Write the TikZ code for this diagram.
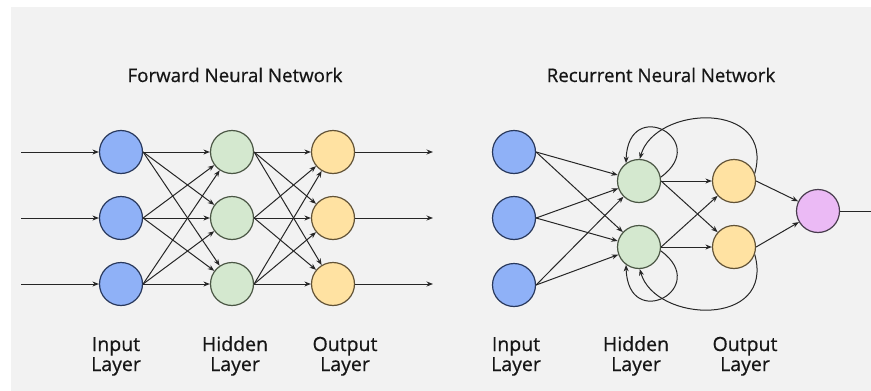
\documentclass[tikz,border=0pt]{standalone}
\usepackage{fontspec}
\setmainfont{Open Sans}[UprightFeatures={FakeBold=0.6}]
\usetikzlibrary{arrows.meta}

\definecolor{panel}{HTML}{F2F2F2}
\definecolor{inFill}{HTML}{8FB1F7}
\definecolor{inLine}{HTML}{28385C}
\definecolor{hidFill}{HTML}{D4E8CF}
\definecolor{hidLine}{HTML}{4A5644}
\definecolor{outFill}{HTML}{FFE2A2}
\definecolor{outLine}{HTML}{615236}
\definecolor{resFill}{HTML}{EBBAF5}
\definecolor{resLine}{HTML}{483C4D}
\definecolor{edge}{HTML}{262626}
\definecolor{ink}{HTML}{161616}

\begin{document}
\begin{tikzpicture}[x=1pt,y=-1pt,
  neuron/.style={circle, minimum size=43pt, inner sep=0pt, line width=1.2pt},
  inp/.style={neuron, fill=inFill, draw=inLine},
  hid/.style={neuron, fill=hidFill, draw=hidLine},
  outn/.style={neuron, fill=outFill, draw=outLine},
  res/.style={neuron, fill=resFill, draw=resLine},
  link/.style={draw=edge, line width=1pt, -{Stealth[length=6.5pt,width=5pt]}},
  plain/.style={draw=edge, line width=1pt},
  heading/.style={font=\fontsize{18.7}{22}\selectfont, text=ink, anchor=base, inner sep=0pt},
  caption/.style={font=\fontsize{19.5}{22}\selectfont, text=ink, anchor=base, inner sep=0pt},
]
\useasboundingbox (0,0) rectangle (871,391);
\fill[white] (0,0) rectangle (871,391);
\fill[panel] (11,7) rectangle (871,391);

% ---------- titles ----------
\node[heading] (fTitle) at (235,82) {Forward Neural Network};
\node[heading] (rTitle) at (661,82) {Recurrent Neural Network};

% ---------- feed-forward network ----------
\foreach \i/\y in {1/152,2/218,3/284}{
  \node[inp]  (fI\i) at (121,\y) {};
  \node[hid]  (fH\i) at (232,\y) {};
  \node[outn] (fO\i) at (333,\y) {};
  \coordinate (fS\i) at (21,\y);
  \coordinate (fE\i) at (433,\y);
}
\foreach \i in {1,2,3}{
  \draw[link] (fS\i) -- (fI\i);
  \draw[link] (fO\i) -- (fE\i);
  \foreach \j in {1,2,3}{
    \draw[link] (fI\i.east) -- (fH\j);
    \draw[link] (fH\i.east) -- (fO\j);
  }
}

% ---------- recurrent network ----------
\foreach \i/\y in {1/152,2/218,3/285}{
  \node[inp] (rI\i) at (514,\y) {};
}
\node[hid]  (rH1) at (639,181) {};
\node[hid]  (rH2) at (639,247) {};
\node[outn] (rO1) at (734,181) {};
\node[outn] (rO2) at (734,247) {};
\node[res]  (rP)  at (818,211) {};
\coordinate (rEnd) at (871,211);

\foreach \i in {1,2,3}{
  \foreach \j in {1,2}{
    \draw[link] (rI\i.east) -- (rH\j);
  }
}
\foreach \i in {1,2}{
  \foreach \j in {1,2}{
    \draw[link] (rH\i.east) -- (rO\j);
  }
  \draw[link] (rO\i.east) -- (rP);
}
\draw[plain] (rP) -- (rEnd);

% recurrent loops above the first hidden unit
\draw[link] (rH1.10) .. controls (712,140) and (628,95) .. (rH1.126);
\draw[link] (rO1.20) .. controls (775,100) and (655,105) .. (rH1.88);
% recurrent loops below the second hidden unit
\draw[link] (rH2.-10) .. controls (712,288) and (628,333) .. (rH2.-126);
\draw[link] (rO2.-20) .. controls (775,328) and (655,323) .. (rH2.-88);

% ---------- layer captions ----------
\foreach \x/\w/\n in {116/Input/a,235/Hidden/b,345/Output/c,516/Input/d,636/Hidden/e,745/Output/f}{
  \node[caption] (cap\n1) at (\x,351) {\w};
  \node[caption] (cap\n2) at (\x,371) {Layer};
}
\end{tikzpicture}
\end{document}
